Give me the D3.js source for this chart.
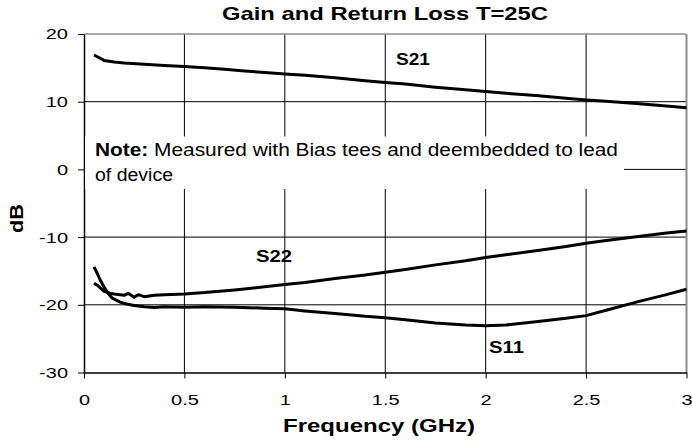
<!DOCTYPE html>
<html>
<head>
<meta charset="utf-8">
<script src="https://cdn.jsdelivr.net/npm/d3@7"></script>
<style>
  body { margin: 0; background: #fff; }
  svg { display: block; font-family: "Liberation Sans", Arial, sans-serif; }
</style>
</head>
<body>
<div id="chart"></div>
<script>
// S21 gain
var s21Freq = [0.05,0.1,0.15,0.2,0.3,0.4,0.5,0.6,0.7,0.8,0.9,1.0,1.1,1.25,1.4,1.5,1.6,1.75,1.9,2.0,2.1,2.25,2.4,2.5,2.6,2.75,2.9,3.0];
var s21Db   = [16.9,16.1,15.85,15.7,15.55,15.35,15.2,15.0,14.8,14.55,14.3,14.1,13.9,13.55,13.1,12.85,12.6,12.15,11.75,11.5,11.25,10.9,10.5,10.25,10.05,9.75,9.35,9.1];

// S22 output return loss
var s22Freq = [0.05,0.07,0.1,0.13,0.15,0.2,0.22,0.25,0.27,0.3,0.35,0.4,0.5,0.6,0.75,0.9,1.0,1.1,1.25,1.4,1.5,1.6,1.75,1.9,2.0,2.1,2.25,2.4,2.5,2.6,2.75,2.9,3.0];
var s22Db   = [-16.8,-17.2,-18.0,-18.3,-18.4,-18.6,-18.3,-18.9,-18.5,-18.8,-18.6,-18.5,-18.4,-18.2,-17.8,-17.35,-17.0,-16.7,-16.1,-15.6,-15.2,-14.8,-14.1,-13.5,-13.0,-12.6,-12.0,-11.4,-10.9,-10.5,-9.95,-9.4,-9.1];

// S11 input return loss
var s11Freq = [0.05,0.065,0.08,0.1,0.12,0.14,0.16,0.18,0.2,0.25,0.3,0.35,0.4,0.5,0.6,0.75,0.9,1.0,1.1,1.25,1.4,1.5,1.6,1.75,1.9,2.0,2.1,2.25,2.4,2.5,2.6,2.75,2.9,3.0];
var s11Db   = [-14.4,-15.3,-16.3,-17.4,-18.3,-19.0,-19.3,-19.6,-19.8,-20.1,-20.3,-20.4,-20.3,-20.35,-20.3,-20.35,-20.5,-20.6,-20.9,-21.3,-21.7,-21.9,-22.2,-22.7,-23.0,-23.1,-23.0,-22.5,-22.0,-21.6,-20.8,-19.6,-18.5,-17.7];

var xTicks = [0,0.5,1,1.5,2,2.5,3];
var yTicks = [-30,-20,-10,0,10,20];

var W = 692, H = 446;
var margin = {top: 34, right: 5.5, bottom: 73.5, left: 84};

var svg = d3.select('#chart').append('svg')
	.attr('width', W)
	.attr('height', H);

var x = d3.scaleLinear().domain([0, 3]).range([margin.left, W - margin.right]);
var y = d3.scaleLinear().domain([-30, 20]).range([H - margin.bottom, margin.top]);

// stretch text horizontally, the reference fonts are wide
function widen(sel, k) {
	sel.each(function() {
		var w = this.getComputedTextLength();
		this.setAttribute('textLength', w * k);
		this.setAttribute('lengthAdjust', 'spacingAndGlyphs');
	});
}

// grid
svg.append('g').selectAll('line.h')
	.data(yTicks.slice(1, -1))
	.join('line')
	.attr('x1', x(0)).attr('x2', x(3))
	.attr('y1', d => y(d)).attr('y2', d => y(d))
	.attr('stroke', '#000').attr('stroke-width', 1);

svg.append('g').selectAll('line.v')
	.data(xTicks.slice(1, -1))
	.join('line')
	.attr('x1', d => x(d)).attr('x2', d => x(d))
	.attr('y1', y(20)).attr('y2', y(-30))
	.attr('stroke', '#000').attr('stroke-width', 1);

// plot frame, top and right in grey
svg.append('line')
	.attr('x1', x(0)).attr('x2', x(3)).attr('y1', y(20)).attr('y2', y(20))
	.attr('stroke', '#8c8c8c').attr('stroke-width', 1.5);
svg.append('line')
	.attr('x1', x(3)).attr('x2', x(3)).attr('y1', y(20)).attr('y2', y(-30))
	.attr('stroke', '#8c8c8c').attr('stroke-width', 2);

// axes (plain hyphen for negatives, like the original)
var yAxis = svg.append('g')
	.attr('transform', 'translate(' + x(0) + ',0)')
	.call(d3.axisLeft(y).tickValues(yTicks).tickFormat(d => String(d)).tickSize(6).tickPadding(10).tickSizeOuter(0));
var xAxis = svg.append('g')
	.attr('transform', 'translate(0,' + y(-30) + ')')
	.call(d3.axisBottom(x).tickValues(xTicks).tickFormat(d => String(d)).tickSize(6).tickPadding(15).tickSizeOuter(0));

[xAxis, yAxis].forEach(function(a) {
	a.select('.domain').attr('stroke', '#000').attr('stroke-width', 1.5);
	a.selectAll('.tick line').attr('stroke', '#000');
	a.selectAll('.tick text')
		.attr('fill', '#000')
		.style('font-family', '"Liberation Sans", Arial, sans-serif')
		.style('font-size', '15.5px');
	widen(a.selectAll('.tick text'), 1.29);
});

// note box covers the grid
svg.append('rect')
	.attr('x', x(0) + 1).attr('y', 136.5)
	.attr('width', 624 - x(0) - 1).attr('height', 52.5)
	.attr('fill', '#fff');

var note = svg.append('text')
	.attr('x', 95).attr('y', 156)
	.style('font-size', '17.5px');
note.append('tspan').attr('font-weight', 'bold').text('Note:');
note.append('tspan').text(' Measured with Bias tees and deembedded to lead');
note.attr('textLength', 523).attr('lengthAdjust', 'spacingAndGlyphs');

svg.append('text')
	.attr('x', 95).attr('y', 181)
	.style('font-size', '17.5px')
	.attr('textLength', 78).attr('lengthAdjust', 'spacingAndGlyphs')
	.text('of device');

// curves
var line = d3.line()
	.x(d => x(d[0]))
	.y(d => y(d[1]));

var series = [
	{name: 'S21', f: s21Freq, v: s21Db},
	{name: 'S22', f: s22Freq, v: s22Db},
	{name: 'S11', f: s11Freq, v: s11Db}
];

svg.append('g').selectAll('path')
	.data(series)
	.join('path')
	.attr('d', d => line(d.f.map((f, i) => [f, d.v[i]])))
	.attr('fill', 'none')
	.attr('stroke', '#000')
	.attr('stroke-width', 3)
	.attr('stroke-linejoin', 'round');

// series labels
var labels = [
	{t: 'S21', x: 396, y: 65, w: 34},
	{t: 'S22', x: 256, y: 262, w: 36},
	{t: 'S11', x: 489, y: 353, w: 35}
];
svg.append('g').selectAll('text')
	.data(labels)
	.join('text')
	.attr('x', d => d.x).attr('y', d => d.y)
	.attr('font-weight', 'bold')
	.style('font-size', '17px')
	.attr('textLength', d => d.w).attr('lengthAdjust', 'spacingAndGlyphs')
	.text(d => d.t);

// titles
svg.append('text')
	.attr('x', 222).attr('y', 20)
	.attr('font-weight', 'bold')
	.style('font-size', '18.5px')
	.attr('textLength', 326).attr('lengthAdjust', 'spacingAndGlyphs')
	.text('Gain and Return Loss T=25C');

svg.append('text')
	.attr('x', 283).attr('y', 432)
	.attr('font-weight', 'bold')
	.style('font-size', '19px')
	.attr('textLength', 192).attr('lengthAdjust', 'spacingAndGlyphs')
	.text('Frequency (GHz)');

svg.append('text')
	.attr('transform', 'translate(23,233) rotate(-90)')
	.attr('font-weight', 'bold')
	.style('font-size', '19px')
	.attr('textLength', 29).attr('lengthAdjust', 'spacingAndGlyphs')
	.text('dB');
</script>
</body>
</html>
